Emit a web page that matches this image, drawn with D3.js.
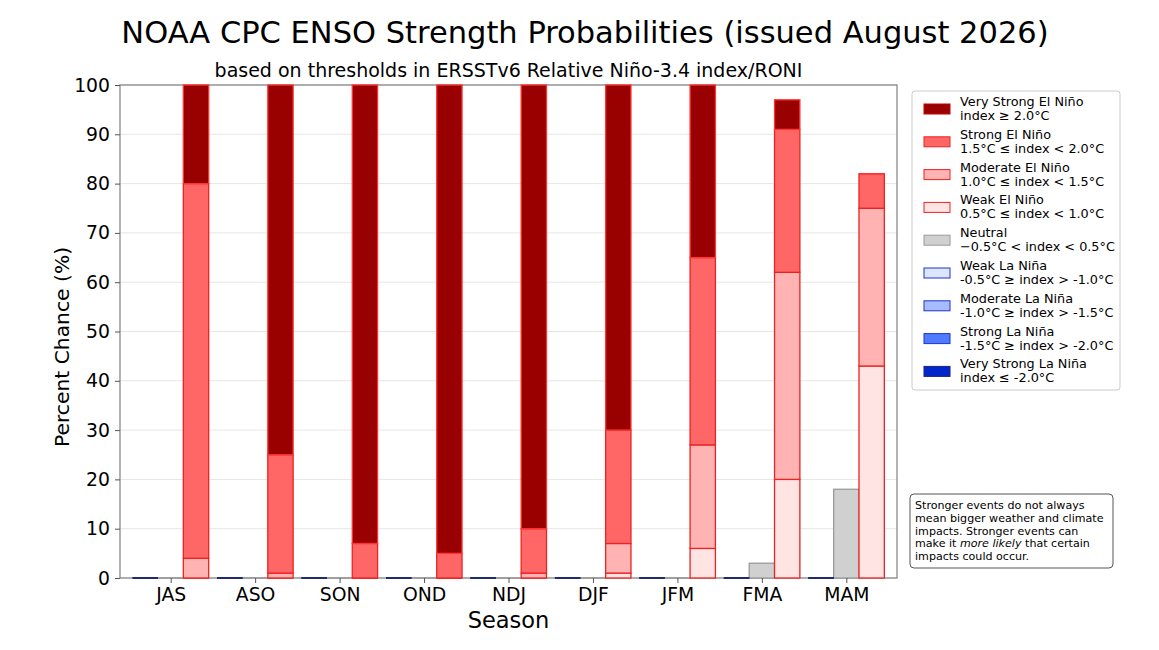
<!DOCTYPE html>
<html><head><meta charset="utf-8">
<script src="https://cdn.jsdelivr.net/npm/d3@7"></script>
<style>
html,body{margin:0;padding:0;background:#fff;}
text{font-family:"DejaVu Sans",sans-serif;fill:#000;}
</style></head>
<body>
<svg id="chart" width="1159" height="650"></svg>
<script>
const seasons = ["JAS","ASO","SON","OND","NDJ","DJF","JFM","FMA","MAM"];
const weakLaNina     = [0,0,0,0,0,0,0,0,0];
const modLaNina      = [0,0,0,0,0,0,0,0,0];
const strongLaNina   = [0,0,0,0,0,0,0,0,0];
const vsLaNina       = [0,0,0,0,0,0,0,0,0];
const neutral        = [0,0,0,0,0,0,0,3,18];
const weakElNino     = [0,0,0,0,0,1,6,20,43];
const modElNino      = [4,1,0,0,1,6,21,42,32];
const strongElNino   = [76,24,7,5,9,23,38,29,7];
const vsElNino       = [20,75,93,95,90,70,35,6,0];
const yTicks = [0,10,20,30,40,50,60,70,80,90,100];

const legendItems = [
  {name:"Very Strong El Niño", rng:"index ≥ 2.0°C", fill:"#990000", stroke:"#cc0000"},
  {name:"Strong El Niño", rng:"1.5°C ≤ index < 2.0°C", fill:"#ff6666", stroke:"#ee2222"},
  {name:"Moderate El Niño", rng:"1.0°C ≤ index < 1.5°C", fill:"#ffb3b3", stroke:"#ee2222"},
  {name:"Weak El Niño", rng:"0.5°C ≤ index < 1.0°C", fill:"#ffe4e4", stroke:"#ee2222"},
  {name:"Neutral", rng:"−0.5°C < index < 0.5°C", fill:"#d0d0d0", stroke:"#9a9a9a"},
  {name:"Weak La Niña", rng:"-0.5°C ≥ index > -1.0°C", fill:"#dde6ff", stroke:"#2233cc"},
  {name:"Moderate La Niña", rng:"-1.0°C ≥ index > -1.5°C", fill:"#a6bcff", stroke:"#2233cc"},
  {name:"Strong La Niña", rng:"-1.5°C ≥ index > -2.0°C", fill:"#4f7cff", stroke:"#2233cc"},
  {name:"Very Strong La Niña", rng:"index ≤ -2.0°C", fill:"#0026cc", stroke:"#1a237e"}
];

const svg = d3.select("#chart");
const L=120, R=897, T=85, B=578;
const x = d3.scaleLinear().domain([-0.6, 8.6]).range([L, R]);
const y = d3.scaleLinear().domain([0, 100]).range([B, T]);
const bw = x(0.3) - x(0);

// title
svg.append("text").attr("x",585).attr("y",43).attr("text-anchor","middle")
  .style("font-size","30.5px").text("NOAA CPC ENSO Strength Probabilities (issued August 2026)");
svg.append("text").attr("x",(L+R)/2).attr("y",77).attr("text-anchor","middle")
  .style("font-size","19px").text("based on thresholds in ERSSTv6 Relative Niño-3.4 index/RONI");

// grid
svg.append("g").selectAll("line").data(yTicks).join("line")
  .attr("x1",L).attr("x2",R).attr("y1",d=>y(d)).attr("y2",d=>y(d))
  .attr("stroke","#e6e6e6").attr("stroke-width",1);

// frame (under bars)
svg.append("rect").attr("x",L).attr("y",T).attr("width",R-L).attr("height",B-T)
  .attr("fill","none").attr("stroke","#808080").attr("stroke-width",1.2);

// stacked bars
function drawStack(groups, offset) {
  const base = seasons.map(()=>0);
  groups.forEach(g=>{
    seasons.forEach((s,i)=>{
      const v = g.vals[i];
      const y0 = base[i], y1 = base[i]+v;
      const x0 = x(i+offset)-bw/2;
      if (v > 0) {
        svg.append("rect")
          .attr("x", x0).attr("width", bw)
          .attr("y", y(y1)).attr("height", y(y0)-y(y1))
          .attr("fill", g.fill).attr("stroke", g.stroke).attr("stroke-width", g.sw||1.3);
      } else {
        svg.append("line")
          .attr("x1", x0).attr("x2", x0+bw).attr("y1", y(y0)).attr("y2", y(y0))
          .attr("stroke", g.stroke).attr("stroke-width", g.sw||1.3);
      }
      base[i] = y1;
    });
  });
}
drawStack([{vals:neutral, fill:"#d0d0d0", stroke:"#9a9a9a"}], 0);
drawStack([
  {vals:weakLaNina, fill:"#dde6ff", stroke:"#2233cc"},
  {vals:modLaNina, fill:"#a6bcff", stroke:"#2233cc"},
  {vals:strongLaNina, fill:"#4f7cff", stroke:"#2233cc"},
  {vals:vsLaNina, fill:"#0026cc", stroke:"#1f2a70", sw:2}
], -0.3);
drawStack([
  {vals:weakElNino, fill:"#ffe4e4", stroke:"#ee2222"},
  {vals:modElNino, fill:"#ffb3b3", stroke:"#ee2222"},
  {vals:strongElNino, fill:"#ff6666", stroke:"#ee2222"},
  {vals:vsElNino, fill:"#990000", stroke:"#ff3333"}
], 0.3);

// axes
const xAxis = svg.append("g").attr("transform",`translate(0,${B})`)
  .call(d3.axisBottom(x).tickValues(d3.range(seasons.length)).tickFormat(i=>seasons[i]).tickSize(5).tickPadding(5));
const yAxis = svg.append("g").attr("transform",`translate(${L},0)`)
  .call(d3.axisLeft(y).tickValues(yTicks).tickSize(5).tickPadding(5));
[xAxis,yAxis].forEach(a=>{
  a.select(".domain").remove();
  a.selectAll(".tick line").attr("stroke","#555");
  a.selectAll(".tick text").style("font-size","18.8px").style("font-family","DejaVu Sans").attr("fill","#000");
});

svg.append("text").attr("x",(L+R)/2).attr("y",628).attr("text-anchor","middle")
  .style("font-size","22.5px").text("Season");
svg.append("text").attr("transform",`translate(69,347) rotate(-90)`).attr("text-anchor","middle")
  .style("font-size","20.3px").text("Percent Chance (%)");

// legend
const lg = svg.append("g");
lg.append("rect").attr("x",912).attr("y",91).attr("width",208).attr("height",299)
  .attr("rx",3).attr("fill","#fff").attr("stroke","#cccccc");
legendItems.forEach((d,k)=>{
  const yy = 103 + k*32.8;
  lg.append("rect").attr("x",924).attr("y",yy+1).attr("width",26).attr("height",10)
    .attr("fill",d.fill).attr("stroke",d.stroke).attr("stroke-width",1);
  lg.append("text").attr("x",960).attr("y",yy+3).style("font-size","12.8px").text(d.name);
  lg.append("text").attr("x",960).attr("y",yy+17).style("font-size","12.8px").text(d.rng);
});

// note
const ng = svg.append("g");
ng.append("rect").attr("x",910).attr("y",494).attr("width",203).attr("height",74)
  .attr("rx",4).attr("fill","#fff").attr("stroke","#555").attr("stroke-width",1);
const noteLines = ["Stronger events do not always","mean bigger weather and climate","impacts. Stronger events can", null, "impacts could occur."];
noteLines.forEach((t,k)=>{
  const tt = ng.append("text").attr("x",915).attr("y",509+k*12.8).style("font-size","11.1px");
  if(t) tt.text(t);
  else {
    tt.append("tspan").text("make it ");
    tt.append("tspan").style("font-style","italic").text("more likely");
    tt.append("tspan").text(" that certain");
  }
});
</script>
</body></html>
